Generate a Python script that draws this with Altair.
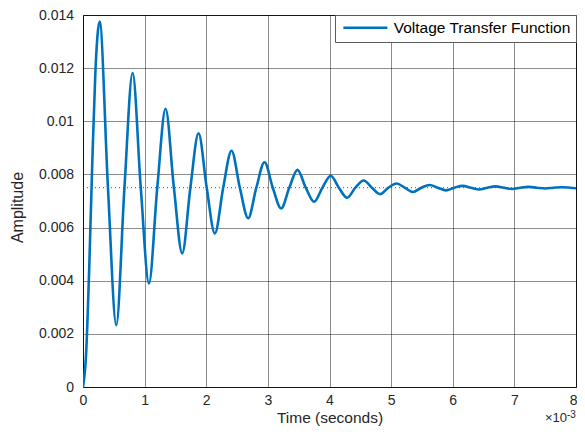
import altair as alt
import pandas as pd

# Time in milliseconds (axis shows x10^-3 seconds)
time_ms = [0, 0.05, 0.10, 0.15, 0.20, 0.27, 0.405, 0.54, 0.6725, 0.805, 0.9375, 1.07,
           1.205, 1.34, 1.475, 1.61, 1.7425, 1.875, 2.0075, 2.14, 2.275, 2.41, 2.545,
           2.68, 2.8125, 2.945, 3.08, 3.215, 3.3475, 3.48, 3.615, 3.75, 3.885, 4.02,
           4.1525, 4.285, 4.42, 4.555, 4.6875, 4.82, 4.955, 5.09, 5.2225, 5.355, 5.49,
           5.625, 5.7575, 5.89, 6.025, 6.16, 6.295, 6.43, 6.5625, 6.695, 6.83, 6.965,
           7.0975, 7.23, 7.365, 7.5, 7.635, 7.77, 7.905, 8.0]

amplitude = [0, 0.00123, 0.0044, 0.0084, 0.0118, 0.01375, 0.0075, 0.00233, 0.0075,
             0.01182, 0.0075, 0.0039, 0.0075, 0.01047, 0.0075, 0.00503, 0.0075, 0.00955,
             0.0075, 0.00578, 0.0075, 0.00889, 0.0075, 0.00635, 0.0075, 0.00846, 0.0075,
             0.00672, 0.0075, 0.00817, 0.0075, 0.00697, 0.0075, 0.00795, 0.0075, 0.00712,
             0.0075, 0.00777, 0.0075, 0.00726, 0.0075, 0.00766, 0.0075, 0.00734, 0.0075,
             0.0076, 0.0075, 0.0074, 0.0075, 0.00757, 0.0075, 0.00743, 0.0075, 0.00755,
             0.0075, 0.00745, 0.0075, 0.00753, 0.0075, 0.00747, 0.0075, 0.00752, 0.0075,
             0.00748]

series_name = "Voltage Transfer Function"
final_value = 0.0075
x_ticks = [0, 1, 2, 3, 4, 5, 6, 7, 8]
y_ticks = [0, 0.002, 0.004, 0.006, 0.008, 0.01, 0.012, 0.014]
x_domain = [0, 8]
y_domain = [0, 0.014]

df = pd.DataFrame({"t": time_ms, "v": amplitude, "s": [series_name] * len(time_ms)})
ref_df = pd.DataFrame({"x0": [x_domain[0]], "x1": [x_domain[1]], "y": [final_value]})

FONT = "Liberation Sans"
TXT = "#262626"

xscale = alt.Scale(domain=x_domain, nice=False, zero=False)
yscale = alt.Scale(domain=y_domain, nice=False)

line = alt.Chart(df).mark_line(strokeWidth=2.6, interpolate="monotone", clip=True).encode(
    x=alt.X("t:Q", scale=xscale,
            axis=alt.Axis(values=x_ticks, title="Time (seconds)", format="d",
                          labelPadding=6,
                          labelAlign=alt.ExprRef("datum.value == 8 ? 'right' : 'center'"),
                          labelOffset=alt.ExprRef("datum.value == 8 ? 1 : 0"),
                          titleBaseline="alphabetic", titleY=35, titleFontSize=15.5)),
    y=alt.Y("v:Q", scale=yscale,
            axis=alt.Axis(values=y_ticks, title="Amplitude", format="~g",
                          labelPadding=9.5, titleAngle=270, titleBaseline="alphabetic",
                          titleX=-61, titleY=192, titleAlign="center")),
    color=alt.Color("s:N", scale=alt.Scale(domain=[series_name], range=["#0072BD"]),
                    legend=alt.Legend(title=None)),
)

ref = alt.Chart(ref_df).mark_rule(color="#555555", strokeWidth=1, strokeDash=[1, 3]).encode(
    x="x0:Q", x2="x1:Q", y="y:Q"
)

mult = alt.Chart(pd.DataFrame({"x": [x_domain[1]]})).mark_text(
    text="\u00d710", align="right", baseline="alphabetic", font=FONT, fontSize=13,
    color=TXT, dx=-9
).encode(x="x:Q", y=alt.value(407))

expo = alt.Chart(pd.DataFrame({"x": [x_domain[1]]})).mark_text(
    text="-3", align="left", baseline="alphabetic", font=FONT, fontSize=10,
    color=TXT, dx=-9
).encode(x="x:Q", y=alt.value(403))

chart = alt.layer(ref, line, mult, expo).properties(
    width=493, height=372,
    autosize=alt.AutoSizeParams(type="none"),
    padding={"left": 75, "top": 7, "right": 1, "bottom": 39},
).configure_axis(
    grid=True, gridColor="#000000", gridOpacity=0.45, gridWidth=1,
    domain=False, ticks=False,
    labelFont=FONT, labelFontSize=14, labelColor=TXT,
    titleFont=FONT, titleFontSize=16, titleFontWeight="normal", titleColor=TXT,
).configure_view(
    stroke=TXT, strokeWidth=1
).configure_legend(
    orient="top-right", offset=0, fillColor="white", strokeColor="#5a5a5a",
    padding=5, labelFont=FONT, labelFontSize=15.5, labelColor="#000000",
    labelLimit=400,
    symbolType="M-1,0H9", symbolSize=77.4, symbolStrokeWidth=2.6, labelOffset=38.2,
    cornerRadius=0,
)

chart.save("out.html", embed_options={"renderer": "svg", "actions": False})
